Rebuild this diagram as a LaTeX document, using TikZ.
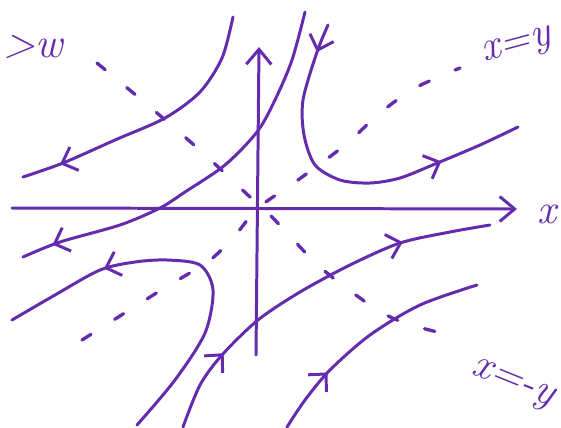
\documentclass[tikz,border=0pt]{standalone}
\usetikzlibrary{arrows.meta,decorations.markings}
\definecolor{penpurple}{RGB}{100,44,172}
\tikzset{
  penline/.style={draw=penpurple, line width=1.7pt, line cap=round, line join=round},
  axis/.style={penline, -{Straight Barb[length=3mm,width=5mm]}},
  guide/.style={penline, line width=1.9pt, dash pattern=on 6pt off 16pt},
  flowat/.style={postaction={decorate, decoration={markings,
    mark=at position #1 with {\arrow{Straight Barb[length=2.6mm,width=5mm]}}}}},
  note/.style={text=penpurple, font=\fontsize{24}{24}\selectfont\itshape, inner sep=0pt}
}
\begin{document}
\begin{tikzpicture}[x=0.02cm, y=-0.02cm]
  \useasboundingbox (0,0) rectangle (561,427);
  \coordinate (xleft) at (12,208);
  \coordinate (xright) at (517,209);
  \coordinate (ybottom) at (256,355);
  \coordinate (ytop) at (259,47);

  \draw[axis] (xleft) -- (xright);
  \draw[axis] (ybottom) -- (ytop);

  \draw[guide] plot[smooth] coordinates {(82,340) (158,292) (210,260) (237,233) (258,208)
    (298,180) (345,145) (380,113) (415,88) (460,68)};
  \draw[guide] plot[smooth] coordinates {(97,63) (150,107) (203,153) (250,197) (272,217)
    (320,267) (373,307) (405,323) (457,337)};

  \draw[penline, flowat=0.86] plot[smooth] coordinates {(233,17) (222,58) (200,92) (165,118)
    (115,140) (63,163) (23,177)};
  \draw[penline, flowat=0.92] plot[smooth] coordinates {(305,12) (292,60) (275,100) (257,132)
    (225,165) (185,192) (160,208) (120,225) (60,242) (23,257)};
  \draw[penline, flowat=0.08, flowat=0.77] plot[smooth] coordinates {(328,25) (317,52) (303,100)
    (304,135) (315,165) (340,180) (370,183) (400,178) (435,164) (480,145) (518,127)};
  \draw[penline, flowat=0.73] plot[smooth] coordinates {(137,425) (175,380) (205,333) (213,290)
    (200,265) (167,260) (135,262) (100,270) (55,295) (12,320)};
  \draw[penline, flowat=0.22, flowat=0.77] plot[smooth] coordinates {(183,427) (200,385) (222,355)
    (258,320) (300,292) (350,265) (400,243) (450,232) (490,225)};
  \draw[penline, flowat=0.28] plot[smooth] coordinates {(287,427) (305,400) (330,370) (370,335)
    (420,305) (477,285)};

  \node[note, anchor=west] (wlabel) at (3,47) {>w};
  \node[note, rotate=15] (diaglabel) at (517,48) {x=y};
  \node[note] (xlabel) at (547,214) {x};
  \node[note, rotate=-22] (antilabel) at (512,385) {x=-y};
\end{tikzpicture}
\end{document}
